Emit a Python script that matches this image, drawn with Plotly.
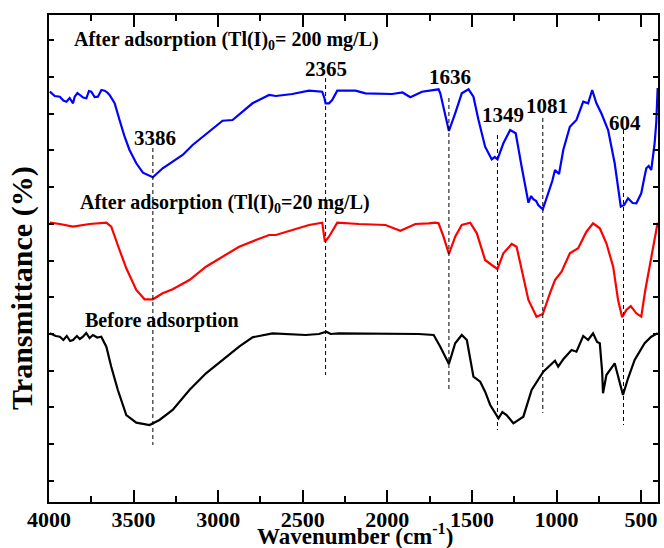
import plotly.graph_objects as go

# ---- data (wavenumber in cm-1, transmittance in arbitrary offset units) ----
wn_blue = [3995, 3966, 3936, 3915, 3897, 3878, 3858, 3848, 3832, 3818, 3798, 3779, 3764, 3750, 3730, 3711,
           3690, 3671, 3655, 3642, 3612, 3583, 3553, 3524, 3484, 3445, 3386, 3328, 3269, 3210, 3151, 3092,
           3033, 2974, 2915, 2856, 2797, 2738, 2699, 2659, 2562, 2463, 2385, 2372, 2365, 2345, 2326, 2296,
           2188, 2129, 1972, 1910, 1864, 1795, 1716, 1697, 1687, 1668, 1657, 1636, 1599, 1560, 1520, 1491,
           1461, 1422, 1383, 1365, 1349, 1314, 1274, 1241, 1206, 1166, 1150, 1137, 1120, 1108, 1081, 1049,
           1025, 1009, 985, 960, 921, 882, 842, 813, 800, 789, 764, 735, 695, 656, 620, 600, 577, 550,
           528, 499, 480, 469, 455, 440, 420, 410, 402]
t_blue = [410.3, 406.0, 405.3, 401.5, 400.3, 404.0, 398.7, 405.3, 409.0, 407.0, 404.5, 403.7, 411.0, 410.3, 405.0, 405.3,
          412.0, 411.3, 409.5, 407.0, 398.7, 382.0, 365.3, 352.0, 338.7, 329.3, 324.7, 333.7, 340.3, 347.0, 357.0, 365.3,
          373.7, 381.3, 382.0, 390.3, 398.7, 403.7, 407.0, 406.0, 408.0, 411.3, 410.3, 404.0, 398.7, 398.7, 402.0, 411.3,
          411.3, 408.7, 408.0, 409.5, 404.7, 410.3, 412.7, 412.7, 408.7, 395.3, 388.7, 371.0, 388.7, 408.7, 412.7, 405.3,
          382.0, 355.3, 342.7, 345.0, 342.7, 358.7, 372.0, 368.7, 335.3, 299.3, 306.0, 302.7, 301.0, 297.0, 292.7, 308.7,
          321.0, 332.0, 328.0, 352.0, 375.3, 382.0, 400.3, 398.7, 405.0, 412.0, 398.7, 388.7, 372.0, 338.7, 295.3, 297.0, 303.7, 299.0,
          298.7, 308.7, 325.0, 333.7, 336.0, 332.0, 358.7, 380.0, 414.0]

wn_red = [3995, 3936, 3858, 3760, 3661, 3632, 3583, 3543, 3484, 3435, 3386, 3328, 3269, 3170, 3072, 2974,
          2876, 2777, 2699, 2659, 2562, 2463, 2385, 2369, 2345, 2296, 2168, 2011, 1923, 1834, 1756, 1716,
          1697, 1668, 1636, 1599, 1560, 1510, 1471, 1422, 1383, 1349, 1314, 1265, 1236, 1196, 1166, 1118,
          1081, 1039, 1009, 970, 921, 872, 823, 784, 744, 705, 665, 636, 612, 587, 561, 528, 499, 475,
          449, 420, 402]
t_red = [279.3, 278.0, 275.3, 278.0, 279.3, 275.3, 252.0, 233.7, 212.0, 202.7, 202.7, 208.7, 212.7, 222.0, 235.3, 245.3,
         255.3, 262.0, 267.0, 267.0, 272.0, 277.0, 279.3, 260.3, 265.3, 279.3, 278.0, 277.0, 271.3, 278.0, 278.7, 279.3,
         278.7, 265.3, 248.0, 265.3, 277.0, 279.3, 268.7, 242.0, 237.0, 233.0, 248.7, 258.0, 255.3, 225.3, 202.0, 185.3,
         188.0, 208.7, 222.0, 230.3, 248.7, 253.7, 270.3, 278.7, 273.7, 258.7, 235.3, 202.0, 184.7, 192.0, 196.0, 188.7, 185.3, 212.0,
         235.3, 262.0, 279.3]

wn_black = [3995, 3960, 3936, 3915, 3895, 3875, 3858, 3835, 3818, 3799, 3780, 3760, 3740, 3715, 3691, 3661, 3632, 3593,
            3543, 3484, 3406, 3347, 3269, 3170, 3072, 2974, 2876, 2797, 2679, 2483, 2404, 2361, 2335, 2286, 1815,
            1726, 1687, 1636, 1599, 1560, 1530, 1491, 1451, 1422, 1392, 1343, 1320, 1295, 1255, 1196, 1147, 1078,
            1009, 990, 960, 911, 882, 842, 813, 784, 760, 744, 730, 725, 705, 656, 607, 577, 538, 479, 440, 402]
t_black = [168.7, 166.0, 165.3, 162.0, 166.0, 161.0, 162.0, 166.0, 163.0, 165.3, 169.0, 164.0, 167.0, 164.5, 165.3, 155.3, 135.3, 112.0,
           87.0, 79.3, 77.0, 82.0, 92.0, 112.0, 128.7, 142.0, 155.3, 164.7, 168.7, 167.0, 168.0, 170.3, 168.0, 168.7, 168.0,
           167.0, 155.3, 138.0, 158.7, 167.0, 162.0, 125.3, 120.3, 110.3, 97.0, 83.7, 90.0, 87.0, 78.7, 85.3, 112.0, 130.3,
           141.3, 135.3, 142.7, 152.0, 150.3, 166.0, 162.0, 168.7, 160.0, 158.7, 130.0, 108.7, 127.0, 138.7, 107.0, 123.7, 142.0, 158.7, 165.3, 168.7]

peak_wn = [3386, 2365, 1636, 1349, 1081, 604]
peak_labels = ["3386", "2365", "1636", "1349", "1081", "604"]
peak_line_top = [354, 424, 404, 367, 384, 372]
peak_line_bottom = [57, 127, 110, 72, 89, 77]
label_x = [3375, 2365, 1628, 1316, 1055, 595]
label_y = [364, 433, 425, 387, 396, 379]

series_names = ["After adsorption (Tl(I)<sub>0</sub>= 200 mg/L)",
                "After adsorption (Tl(I)<sub>0</sub>=20 mg/L)",
                "Before adsorption"]
series_label_x = [3867, 3829, 3799]
series_label_y = [462, 299, 182]

major_ticks = [4000, 3500, 3000, 2500, 2000, 1500, 1000, 500]

FONT = "Liberation Serif, Times New Roman, serif"

fig = go.Figure()

for wn, t, col in [(wn_blue, t_blue, "#0000ff"), (wn_red, t_red, "#ff0000"), (wn_black, t_black, "#000000")]:
    fig.add_trace(go.Scatter(x=wn, y=t, mode="lines", line=dict(color=col, width=2.2),
                             showlegend=False, hoverinfo="skip"))

for w, a, b in zip(peak_wn, peak_line_top, peak_line_bottom):
    fig.add_trace(go.Scatter(x=[w, w], y=[a, b], mode="lines",
                             line=dict(color="#000000", width=1, dash="4px,3px"),
                             showlegend=False, hoverinfo="skip"))

annotations = []
for lx, ly, txt in zip(label_x, label_y, peak_labels):
    annotations.append(dict(x=lx, y=ly, xref="x", yref="y", text=txt, showarrow=False,
                            xanchor="center", yanchor="middle",
                            font=dict(family=FONT, size=21, color="black", weight="bold")))
for lx, ly, txt in zip(series_label_x, series_label_y, series_names):
    annotations.append(dict(x=lx, y=ly, xref="x", yref="y", text=txt, showarrow=False,
                            xanchor="left", yanchor="middle",
                            font=dict(family=FONT, size=20, color="black", weight="bold")))
annotations.append(dict(x=0.502, y=-0.067, xref="paper", yref="paper",
                        text="Wavenumber (cm<sup>-1</sup>)", showarrow=False,
                        xanchor="center", yanchor="middle",
                        font=dict(family=FONT, size=23, color="black", weight="bold")))
annotations.append(dict(x=-0.044, y=0.44, xref="paper", yref="paper",
                        text="Transmittance (%)", showarrow=False, textangle=-90,
                        xanchor="center", yanchor="middle",
                        font=dict(family=FONT, size=30, color="black", weight="bold")))

fig.update_layout(
    width=664, height=548,
    margin=dict(l=49, r=4, t=15, b=46),
    paper_bgcolor="white", plot_bgcolor="white",
    annotations=annotations,
    showlegend=False,
)
fig.update_xaxes(
    range=[4000, 400], tickvals=major_ticks, ticktext=[str(v) for v in major_ticks],
    ticks="inside", ticklen=12, tickwidth=2, tickcolor="black",
    minor=dict(ticks="inside", ticklen=6, tickwidth=2, tickcolor="black", dtick=250, tick0=0, showgrid=False),
    showline=True, linewidth=2, linecolor="black", mirror="ticks",
    showgrid=False, zeroline=False,
    ticklabelstandoff=-3,
    tickfont=dict(family=FONT, size=22, color="black", weight="bold"),
)
fig.update_yaxes(
    range=[0, 487], tick0=21.3, dtick=36.7,
    ticks="inside", ticklen=5, tickwidth=1.5, tickcolor="black",
    showticklabels=False,
    showline=True, linewidth=2, linecolor="black", mirror="ticks",
    showgrid=False, zeroline=False,
)

fig.write_html("out.html", config={"displayModeBar": False},
               post_script="document.body.style.margin='0px';")
